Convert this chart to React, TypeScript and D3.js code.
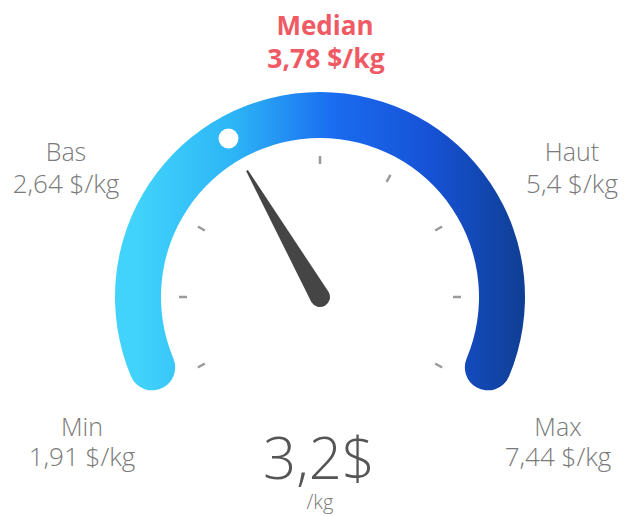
import React from 'react';
import * as d3 from 'd3';

// gauge readings
const gaugeValue = 3.2;
const gaugeUnit = '/kg';
const median = { label: 'Median', value: '3,78 $/kg' };
const sideLabels = ['Bas', 'Haut', 'Min', 'Max'];
const sideValues = ['2,64 $/kg', '5,4 $/kg', '1,91 $/kg', '7,44 $/kg'];
// angular positions (degrees) used by the design
const tickAngles = [-120, -90, -60, 0, 30, 60, 90, 120];
const needleAngle = -30;
const markerAngle = -30;
const gradientStops = ['#41d3fb', '#2cb4f6', '#1a6cf0', '#1652d6', '#0f3e92'];

const W = 626;
const H = 516;
const cx = 320;
const cy = 297;

const App: React.FC = () => {
  const toRad = (d: number) => (d * Math.PI) / 180;
  const angle = d3.scaleLinear().domain([-120, 120]).range([toRad(-120), toRad(120)]);

  const band = d3.arc<any>()
    .innerRadius(159)
    .outerRadius(205)
    .cornerRadius(23)
    .startAngle(angle(-120))
    .endAngle(angle(120))({});

  const stopPos = d3.scaleLinear().domain([0, gradientStops.length - 1]).range([0, 100]);

  const polar = (deg: number, r: number) => [cx + r * Math.sin(toRad(deg)), cy - r * Math.cos(toRad(deg))];
  const marker = polar(markerAngle, 183);

  const labelPos = [
    { x: 66, y: 161, dy: 32 },
    { x: 572, y: 161, dy: 32 },
    { x: 82, y: 436, dy: 30 },
    { x: 558, y: 436, dy: 30 },
  ];

  const font = "'Open Sans', 'Noto Sans', sans-serif";
  const fmt = (v: number) => d3.format('.1f')(v).replace('.', ',');

  return (
    <svg width={W} height={H} style={{ position: 'absolute', left: 0, top: 0 }} fontFamily={font}>
      <defs>
        <linearGradient id="gauge" gradientUnits="userSpaceOnUse" x1={138 - cx} y1={0} x2={527 - cx} y2={0}>
          {gradientStops.map((c, i) => (
            <stop key={i} offset={`${stopPos(i)}%`} stopColor={c} />
          ))}
        </linearGradient>
      </defs>
      <rect width={W} height={H} fill="#ffffff" />
      <path d={band || ''} transform={`translate(${cx},${cy})`} fill="url(#gauge)" />
      <circle cx={marker[0]} cy={marker[1]} r={10} fill="#ffffff" />

      {tickAngles.map(a => (
        <line key={a} x1={0} x2={0} y1={-133} y2={-141} stroke="#9a9a9a" strokeWidth={2.5}
          transform={`translate(${cx},${cy}) rotate(${a})`} />
      ))}

      <g transform={`translate(${cx},${cy}) rotate(${needleAngle})`}>
        <path d="M -10,0 L -1,-146 L 1,-146 L 10,0 A 10 10 0 0 1 -10 0 Z" fill="#454545" />
      </g>

      <text x={cx + 5} y={35} textAnchor="middle" fill="#ef5a65" fontSize={26} fontWeight={700}>{median.label}</text>
      <text x={cx + 6} y={68} textAnchor="middle" fill="#ef5a65" fontSize={26.5} fontWeight={700}>{median.value}</text>

      {sideLabels.map((l, i) => (
        <g key={l} fill="#7a7a7a" fontSize={25} fontWeight={300} textAnchor="middle">
          <text x={labelPos[i].x} y={labelPos[i].y}>{l}</text>
          <text x={labelPos[i].x} y={labelPos[i].y + labelPos[i].dy} fontSize={26}>{sideValues[i]}</text>
        </g>
      ))}

      <text x={cx - 1} y={479} textAnchor="middle" fill="#555555" fontSize={58} fontWeight={300}>{fmt(gaugeValue)}$</text>
      <text x={cx} y={509} textAnchor="middle" fill="#7a7a7a" fontSize={20} fontWeight={300}>{gaugeUnit}</text>
    </svg>
  );
};

export default App;
